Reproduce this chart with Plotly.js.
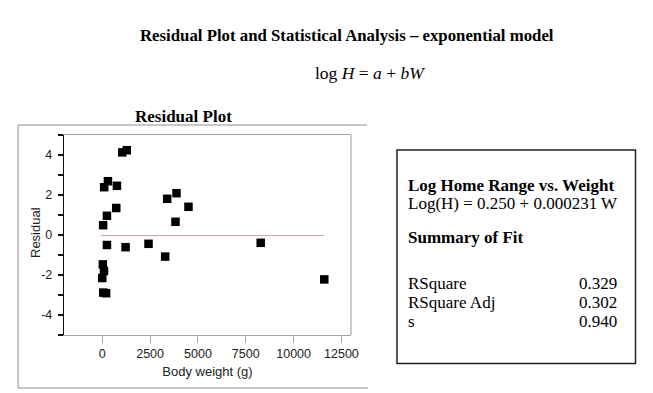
<!DOCTYPE html>
<html>
<head>
<meta charset="utf-8">
<script src="https://cdn.plot.ly/plotly-3.0.1.min.js"></script>
<style>html,body{margin:0;padding:0;background:#fff;}#chart{width:653px;height:393px;}</style>
</head>
<body>
<div id="chart"></div>
<script>
// Data
const bodyWeight = [1044, 1280, 296, 100, 765, 731, 244, 45, 244, 1218, 2418, 3288, 3392, 3880, 3827, 4506, 8281, 11604, 30, 90, 0, 50, 200];
const residual   = [4.13, 4.24, 2.69, 2.39, 2.46, 1.35, 0.96, 0.49, -0.50, -0.61, -0.44, -1.08, 1.81, 2.09, 0.66, 1.41, -0.39, -2.22, -1.47, -1.80, -2.15, -2.88, -2.91];
const zeroLineX = [-87, 11604];
const zeroLineY = [-0.03, -0.03];
const xTicks = [0, 2500, 5000, 7500, 10000, 12500];
const yTicks = [-4, -2, 0, 2, 4];
const statLabels = ["RSquare", "RSquare Adj", "s"];
const statValues = ["0.329", "0.302", "0.940"];

const W = 653, H = 393;
const M = {l: 64, r: 302, t: 135, b: 58};
const pw = W - M.l - M.r, ph = H - M.t - M.b;
const px = x => (x - M.l) / pw;
const py = y => (H - M.b - y) / ph;

const serif = "Liberation Serif, Times New Roman, serif";
const sans = "Liberation Sans, Arial, sans-serif";

const traces = [
  {x: zeroLineX, y: zeroLineY, mode: 'lines', line: {color: '#c9a3aa', width: 1}, hoverinfo: 'skip', showlegend: false},
  {x: bodyWeight, y: residual, mode: 'markers', marker: {symbol: 'square', size: 8.5, color: '#000'}, showlegend: false}
];

function ann(text, x, y, opts) {
  return Object.assign({text: text, x: px(x), y: py(y), xref: 'paper', yref: 'paper', showarrow: false,
    xanchor: 'left', yanchor: 'middle', borderpad: 0, font: {family: serif, size: 17, color: '#000'}}, opts || {});
}

const annotations = [
  ann('<b>Residual Plot and Statistical Analysis – exponential model</b>', 347, 35, {xanchor: 'center', font: {family: serif, size: 16.8, color: '#000'}}),
  ann('log <i>H</i> = <i>a</i> + <i>bW</i>', 370, 73, {xanchor: 'center', font: {family: serif, size: 17.5, color: '#000'}}),
  ann('<b>Residual Plot</b>', 183, 117, {xanchor: 'center', font: {family: serif, size: 17, color: '#000'}}),
  ann('Residual', 35, 233, {xanchor: 'center', textangle: -90, font: {family: sans, size: 13, color: '#222'}}),
  ann('<b>Log Home Range vs. Weight</b>', 407, 185.5),
  ann('Log(H) = 0.250 + 0.000231 W', 407, 203.5),
  ann('<b>Summary of Fit</b>', 407, 237)
];
const rowsY = [283, 302.5, 321.5];
statLabels.forEach((s, i) => {
  annotations.push(ann(s, 407, rowsY[i]));
  annotations.push(ann(statValues[i], 618, rowsY[i], {xanchor: 'right'}));
});

const grayBox = '#b4b4b4';
const shapes = [
  // outer gray frame (top, left, bottom)
  {type: 'line', xref: 'paper', yref: 'paper', x0: px(18), x1: px(367), y0: py(125), y1: py(125), line: {color: grayBox, width: 1.5}},
  {type: 'line', xref: 'paper', yref: 'paper', x0: px(18), x1: px(18), y0: py(125), y1: py(388), line: {color: grayBox, width: 1.5}},
  {type: 'line', xref: 'paper', yref: 'paper', x0: px(18), x1: px(368), y0: py(388), y1: py(388), line: {color: grayBox, width: 1.5}},
  // right gray plot frame
  {type: 'line', xref: 'paper', yref: 'paper', x0: 1, x1: 1, y0: 0, y1: 1, line: {color: '#a8a8a8', width: 1.2}},
  // stats box
  {type: 'rect', xref: 'paper', yref: 'paper', x0: px(397), x1: px(635.5), y0: py(150), y1: py(363.5), line: {color: '#222', width: 1.5}}
];

const layout = {
  width: W, height: H,
  margin: M,
  paper_bgcolor: '#fff', plot_bgcolor: '#fff',
  showlegend: false,
  xaxis: {
    range: [-2000, 13000], tickvals: xTicks, ticktext: xTicks.map(String),
    showgrid: false, zeroline: false,
    showline: true, linecolor: '#a8a8a8', linewidth: 1.2, mirror: true,
    ticks: 'outside', ticklen: 7, tickcolor: '#a8a8a8', tickwidth: 1,
    tickfont: {family: sans, size: 12.5, color: '#222'},
    title: {text: 'Body weight (g)', font: {family: sans, size: 13, color: '#222'}, standoff: 6}
  },
  yaxis: {
    range: [-5, 5], tickvals: yTicks, ticktext: yTicks.map(String),
    showgrid: false, zeroline: false,
    showline: true, linecolor: '#111', linewidth: 1.2, mirror: false,
    ticks: 'outside', ticklen: 5, tickcolor: '#111', tickwidth: 1.2,
    ticklabelstandoff: 3,
    minor: {tickvals: [-5, -3, -1, 1, 3, 5], ticks: 'outside', ticklen: 5, tickcolor: '#111', tickwidth: 1.2},
    tickfont: {family: sans, size: 12.5, color: '#222'}
  },
  annotations: annotations,
  shapes: shapes
};

Plotly.newPlot('chart', traces, layout, {displayModeBar: false, staticPlot: true});
</script>
</body>
</html>
